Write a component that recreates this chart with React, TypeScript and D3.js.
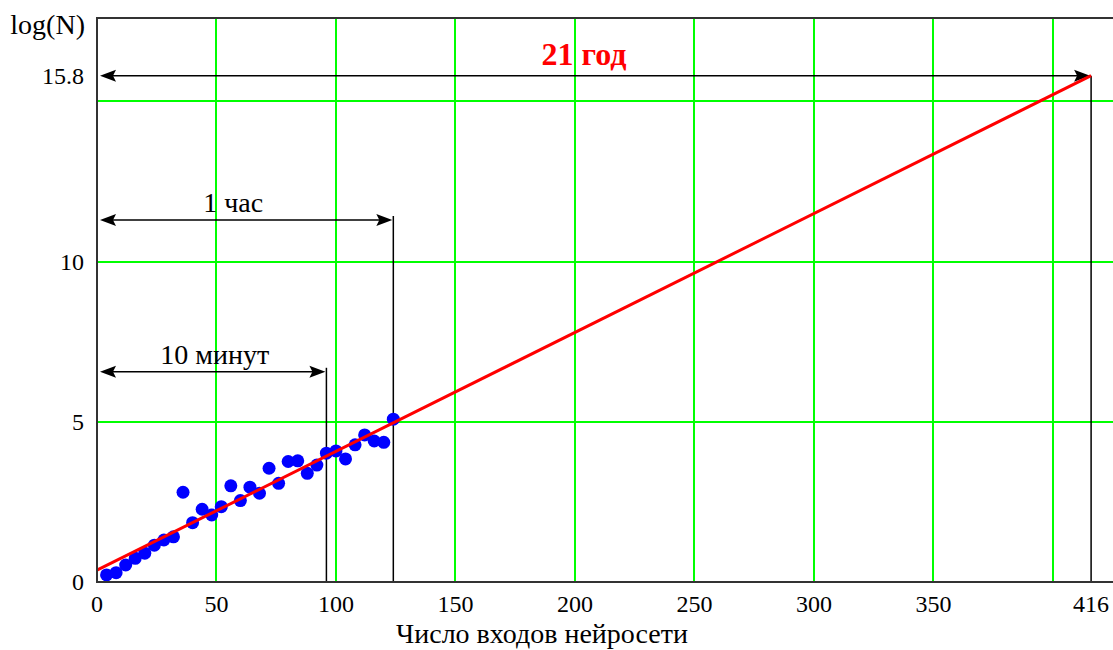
import * as d3 from 'd3';

const W = 1113;
const H = 650;

// measured points: number of network inputs vs log(N)
const inputs = [4, 8, 12, 16, 20, 24, 28, 32, 36, 40, 44, 48, 52, 56, 60, 64, 68, 72, 76, 80, 84, 88, 92, 96, 100, 104, 108, 112, 116, 120, 124];
const logN = [0.22, 0.29, 0.53, 0.74, 0.9, 1.15, 1.31, 1.41, 2.8, 1.85, 2.27, 2.09, 2.35, 3.0, 2.54, 2.96, 2.77, 3.55, 3.08, 3.76, 3.78, 3.39, 3.65, 4.02, 4.09, 3.84, 4.28, 4.59, 4.4, 4.36, 5.08];

// linear fit extrapolated to 416 inputs
const fitX = [0, 416];
const fitY = [0.37, 15.8];

const xTicks = [0, 50, 100, 150, 200, 250, 300, 350, 416];
const xGrid = [50, 100, 150, 200, 250, 300, 350, 400];
const yTicks = [0, 5, 10, 15.8];
const yGrid = [5, 10, 15];

// time annotations: label, inputs, arrow level
const markLabels = ['10 минут', '1 час', '21 год'];
const markX = [96, 124, 416];
const markY = [6.56, 11.3, 15.8];

const FONT = '"Liberation Serif", "Times New Roman", serif';

function Arrow({ x1, x2, y }: { x1: number; x2: number; y: number }) {
    const len = 16;
    const hw = 6;
    return (
        <g>
            <line x1={x1 + 4} x2={x2 - 4} y1={y} y2={y} stroke="#000" strokeWidth={1.5} />
            <path d={`M${x1},${y}L${x1 + len},${y - hw}L${x1 + len - 3},${y}L${x1 + len},${y + hw}Z`} fill="#000" />
            <path d={`M${x2},${y}L${x2 - len},${y - hw}L${x2 - len + 3},${y}L${x2 - len},${y + hw}Z`} fill="#000" />
        </g>
    );
}

export default function App() {
    const x = d3.scaleLinear().domain([0, 426]).range([97, 1115]);
    const y = d3.scaleLinear().domain([0, 17.6]).range([582, 18]);
    const [left, right] = x.range();
    const [bottom, top] = y.range();

    const fitLine = d3
        .line<number>()
        .x((_, i) => x(fitX[i]))
        .y((d) => y(d))(fitY);

    // small nudges so labels sit where the original put them
    const labelShift = [3, -12, -10];

    return (
        <div style={{ position: 'absolute', left: 0, top: 0, width: W, height: H, overflow: 'hidden', background: '#fff' }}>
            <svg width={W} height={H} style={{ display: 'block' }} fontFamily={FONT}>
                {/* grid */}
                {xGrid.map((v) => (
                    <line key={'gx' + v} x1={Math.round(x(v))} x2={Math.round(x(v))} y1={top} y2={bottom} stroke="#00ff00" strokeWidth={2} />
                ))}
                {yGrid.map((v) => (
                    <line key={'gy' + v} x1={left} x2={right} y1={Math.round(y(v))} y2={Math.round(y(v))} stroke="#00ff00" strokeWidth={2} />
                ))}

                {/* annotation verticals and arrows */}
                {markX.map((v, i) => {
                    const ay = y(markY[i]);
                    const last = i === markX.length - 1;
                    return (
                        <g key={'m' + i}>
                            <line x1={x(v)} x2={x(v)} y1={last ? ay : ay - 4} y2={bottom} stroke="#000" strokeWidth={1.5} />
                            <Arrow x1={left + 3} x2={x(v) - 1} y={ay} />
                            <text
                                x={(left + x(v)) / 2 + labelShift[i]}
                                y={ay - (last ? 11 : 8)}
                                textAnchor="middle"
                                fontSize={last ? 32 : 28}
                                fontWeight={last ? 'bold' : 'normal'}
                                fill={last ? '#ff0000' : '#000'}
                            >
                                {markLabels[i]}
                            </text>
                        </g>
                    );
                })}

                {/* points */}
                {inputs.map((v, i) => (
                    <circle key={'p' + i} cx={x(v)} cy={y(logN[i])} r={6.5} fill="#0000ff" />
                ))}

                {/* fit */}
                <path d={fitLine ?? ''} fill="none" stroke="#ff0000" strokeWidth={3} />

                {/* frame */}
                <path d={`M${right},${top}H${left}V${bottom}H${right}`} fill="none" stroke="#333" strokeWidth={2} />

                {/* tick labels */}
                {xTicks.map((v) => (
                    <text key={'tx' + v} x={x(v)} y={612} textAnchor="middle" fontSize={24} fill="#000">
                        {v}
                    </text>
                ))}
                {yTicks.map((v) => (
                    <text key={'ty' + v} x={84} y={y(v) + 8} textAnchor="end" fontSize={24} fill="#000">
                        {v}
                    </text>
                ))}

                {/* axis titles */}
                <text x={85} y={34} textAnchor="end" fontSize={28} fill="#000">
                    log(N)
                </text>
                <text x={542} y={643} textAnchor="middle" fontSize={28} fill="#000">
                    Число входов нейросети
                </text>
            </svg>
        </div>
    );
}
